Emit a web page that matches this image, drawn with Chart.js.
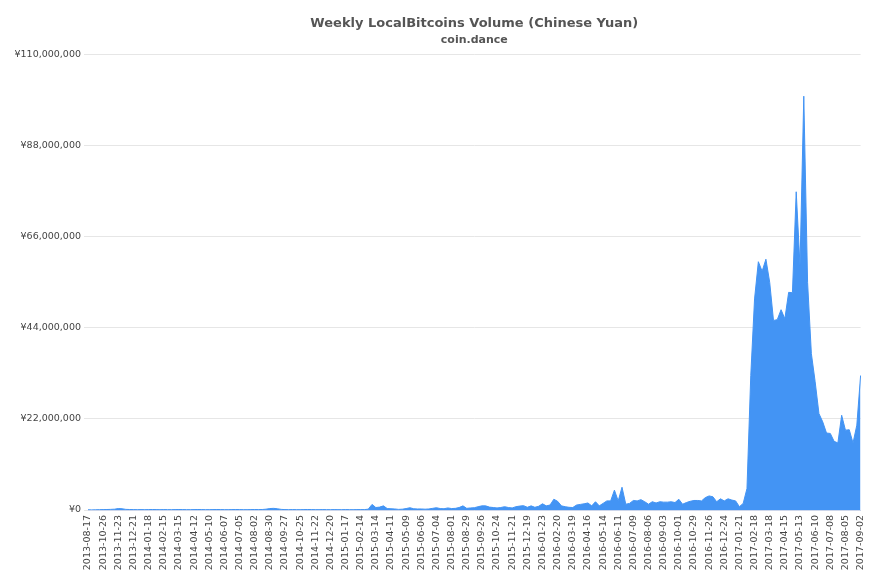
<!DOCTYPE html>
<html>
<head>
<meta charset="utf-8">
<title>Weekly LocalBitcoins Volume (Chinese Yuan)</title>
<script src="https://cdn.jsdelivr.net/npm/chart.js@4.4.1/dist/chart.umd.min.js"></script>
<style>
  html, body { margin: 0; padding: 0; background: #fff; }
  #wrap { width: 877px; height: 585px; position: relative; }
</style>
</head>
<body>
<div id="wrap"><canvas id="volumeChart"></canvas></div>
<script>
/* ── Data ── */
// week runs: [first week, number of weeks]; the feed skips some weeks
const weekRuns = [
  ['2013-08-17', 1],
  ['2013-10-05', 117],
  ['2016-01-09', 87],
];

// weekly volume, millions of CNY
const volumeMillions = [
  0.05, 0.03, 0.05, 0.08, 0.10, 0.12, 0.15, 0.20, 0.35, 0.30,
  0.15, 0.12, 0.10, 0.08, 0.10, 0.08, 0.10, 0.12, 0.10, 0.08,
  0.10, 0.09, 0.08, 0.10, 0.12, 0.10, 0.09, 0.08, 0.10, 0.12,
  0.10, 0.08, 0.09, 0.10, 0.12, 0.10, 0.09, 0.08, 0.10, 0.12,
  0.10, 0.09, 0.08, 0.10, 0.12, 0.10, 0.12, 0.20, 0.35, 0.40,
  0.30, 0.15, 0.10, 0.08, 0.10, 0.09, 0.08, 0.10, 0.12, 0.10,
  0.09, 0.08, 0.10, 0.09, 0.08, 0.10, 0.09, 0.08, 0.10, 0.09,
  0.08, 0.10, 0.10, 0.10, 0.20, 1.35, 0.60, 0.70, 1.00, 0.35,
  0.30, 0.25, 0.15, 0.20, 0.35, 0.55, 0.30, 0.25, 0.25, 0.20,
  0.25, 0.40, 0.55, 0.35, 0.30, 0.50, 0.35, 0.40, 0.60, 1.00,
  0.40, 0.50, 0.55, 0.80, 1.00, 1.00, 0.70, 0.60, 0.50, 0.60,
  0.80, 0.60, 0.50, 0.80, 0.95, 1.05, 0.65, 1.00, 0.65, 0.90,
  1.50, 1.00, 1.20, 2.60, 2.10, 1.00, 0.80, 0.65, 0.60, 1.20,
  1.35, 1.50, 1.70, 1.00, 2.00, 1.00, 1.60, 2.20, 2.20, 4.80,
  2.20, 5.50, 1.40, 1.60, 2.30, 2.20, 2.50, 2.00, 1.40, 2.00,
  1.70, 2.00, 1.90, 1.90, 2.00, 1.80, 2.60, 1.40, 1.80, 2.10,
  2.30, 2.30, 2.20, 3.00, 3.40, 3.20, 2.00, 2.70, 2.20, 2.70,
  2.40, 2.20, 0.80, 1.60, 5.20, 32.5, 51.0, 60.0, 57.7, 60.6,
  55.0, 45.8, 46.0, 48.4, 46.2, 52.6, 52.5, 76.9, 59.0, 100.0,
  55.0, 37.8, 31.0, 23.3, 21.3, 18.6, 18.5, 16.6, 16.2, 22.9,
  19.3, 19.4, 16.2, 20.5, 32.5,
];

const yTicks = [0, 22000000, 44000000, 66000000, 88000000, 110000000];
const labelEvery = 4;

/* ── Helper: expand week runs into date labels ── */
function buildWeeks(runs) {
  const out = [];
  runs.forEach(([start, count]) => {
    const d = new Date(start + 'T00:00:00Z');
    for (let i = 0; i < count; i++) {
      out.push(d.toISOString().slice(0, 10));
      d.setUTCDate(d.getUTCDate() + 7);
    }
  });
  return out;
}

const weeks = buildWeeks(weekRuns);
const volume = volumeMillions.map(v => v * 1e6);

/* ── Chart ── */
const FONT = 'DejaVu Sans';

new Chart(document.getElementById('volumeChart'), {
  type: 'line',
  data: {
    labels: weeks,
    datasets: [{
      label: 'Volume',
      data: volume,
      borderColor: '#4394f4',
      backgroundColor: '#4394f4',
      borderWidth: 1,
      fill: 'origin',
      tension: 0,
      pointRadius: 0,
    }],
  },
  options: {
    responsive: true, maintainAspectRatio: false,
    animation: false,
    layout: { padding: { left: 0, right: 15, top: 0, bottom: 0 } },
    plugins: {
      legend: { display: false },
      tooltip: { enabled: false },
      title: {
        display: true, fullSize: false,
        text: 'Weekly LocalBitcoins Volume (Chinese Yuan)',
        color: '#555',
        font: { family: FONT, size: 13, weight: 'bold' },
        padding: { top: 16, bottom: 2 },
      },
      subtitle: {
        display: true, fullSize: false,
        text: 'coin.dance',
        color: '#555',
        font: { family: FONT, size: 11, weight: 'bold' },
        padding: { top: 0, bottom: 8 },
      },
    },
    scales: {
      x: {
        grid: { display: false, drawTicks: false },
        border: { color: '#ccd6eb' },
        ticks: {
          autoSkip: false, minRotation: 90, maxRotation: 90, padding: 5,
          color: '#444', font: { family: FONT, size: 9.5 },
          callback: function(v, i) { return i % labelEvery === 0 ? this.getLabelForValue(v) : null; },
        },
        afterFit: s => { s.height = 75; },
      },
      y: {
        min: 0, max: 110000000,
        afterBuildTicks: s => { s.ticks = yTicks.map(v => ({ value: v })); },
        grid: { color: '#e6e6e6', drawTicks: true, tickLength: 4 },
        border: { display: false },
        ticks: {
          padding: 3, color: '#444', font: { family: FONT, size: 9.5 },
          callback: v => '¥' + v.toLocaleString('en-US'),
        },
        afterFit: s => { s.width = 88; },
      },
    },
  },
});
</script>
</body>
</html>
